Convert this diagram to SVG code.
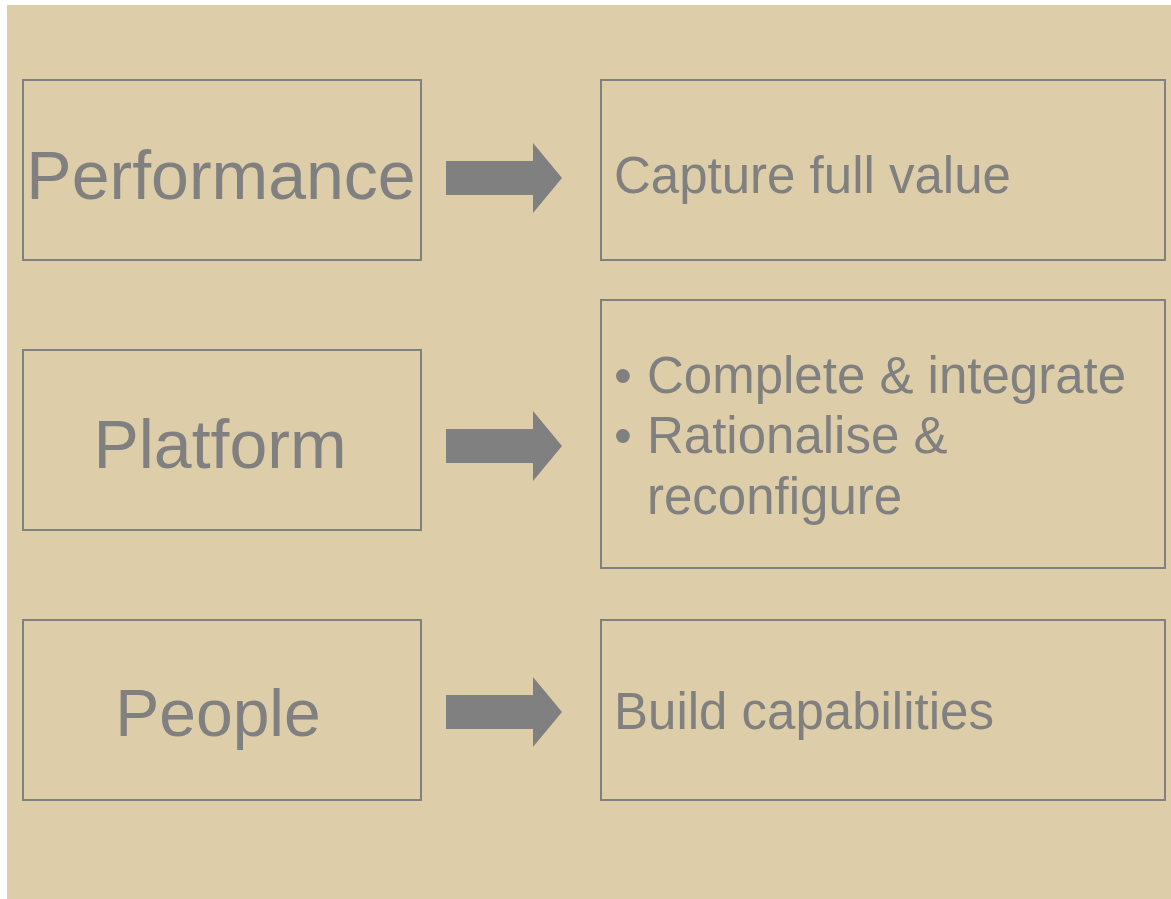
<svg xmlns="http://www.w3.org/2000/svg" width="1171" height="899" viewBox="0 0 1171 899">
  <style>
    .box { fill: none; stroke: #808080; stroke-width: 2; }
    .arrow { fill: #808080; }
    .big { font-family: "Liberation Sans", Arial, sans-serif; font-size: 68px; fill: #808080; text-anchor: middle; }
    .txt { font-family: "Liberation Sans", Arial, sans-serif; font-size: 51px; fill: #808080; }
  </style>
  <defs>
    <polygon id="block-arrow" points="0,-17 87,-17 87,-35 116,0 87,35 87,17 0,17"/>
  </defs>
  <rect x="0" y="0" width="1171" height="899" fill="#ffffff"/>
  <rect x="7" y="5" width="1164" height="894" fill="#DDCDA8"/>

  <g id="performance">
    <rect class="box" x="23" y="80" width="398" height="180"/>
    <text class="big" x="221" y="199">Performance</text>
  </g>
  <g id="platform">
    <rect class="box" x="23" y="350" width="398" height="180"/>
    <text class="big" x="220" y="468">Platform</text>
  </g>
  <g id="people">
    <rect class="box" x="23" y="620" width="398" height="180"/>
    <text class="big" x="218" y="736" style="font-size:66px">People</text>
  </g>

  <g id="capture">
    <rect class="box" x="601" y="80" width="564" height="180"/>
    <text class="txt" x="614" y="193">Capture full value</text>
  </g>
  <g id="integrate">
    <rect class="box" x="601" y="300" width="564" height="268"/>
    <text class="txt" x="614" y="393">•</text>
    <text class="txt" x="647" y="393">Complete &amp; integrate</text>
    <text class="txt" x="614" y="453">•</text>
    <text class="txt" x="647" y="453">Rationalise &amp;</text>
    <text class="txt" x="647" y="514">reconfigure</text>
  </g>
  <g id="capabilities">
    <rect class="box" x="601" y="620" width="564" height="180"/>
    <text class="txt" x="614" y="729">Build capabilities</text>
  </g>

  <g id="connectors">
    <use class="arrow" href="#block-arrow" x="446" y="178"/>
    <use class="arrow" href="#block-arrow" x="446" y="446"/>
    <use class="arrow" href="#block-arrow" x="446" y="712"/>
  </g>
</svg>
